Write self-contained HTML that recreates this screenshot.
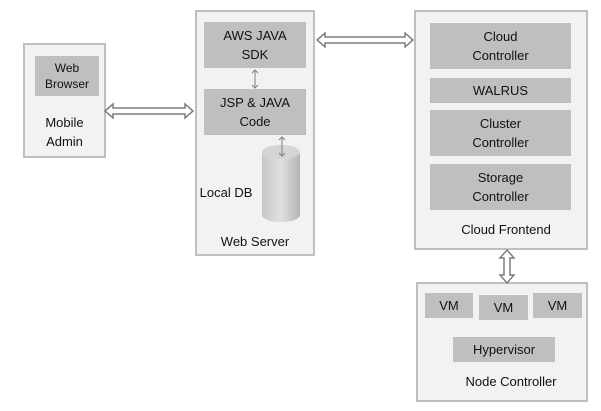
<!DOCTYPE html>
<html><head><style>
body{margin:0;width:601px;height:411px;background:#fff;position:relative;font-family:"Liberation Sans",sans-serif;color:#111;overflow:hidden}
.o{position:absolute;background:#f2f2f2;border:2px solid #bfbfbf;box-sizing:border-box}
.i{position:absolute;background:#bfbfbf;display:flex;align-items:center;justify-content:center;text-align:center;font-size:13px;line-height:19px}
.t{position:absolute;text-align:center;font-size:13px;line-height:19px}
</style></head><body>
<div class="o" style="left:23px;top:43px;width:83px;height:115px"></div>
<div class="i" style="left:35px;top:56px;width:64px;height:40px;font-size:12px;line-height:16px">Web<br>Browser</div>
<div class="t" style="left:23px;top:113px;width:83px">Mobile<br>Admin</div>

<div class="o" style="left:195px;top:10px;width:120px;height:246px"></div>
<div class="i" style="left:204px;top:22px;width:102px;height:46px">AWS JAVA<br>SDK</div>
<div class="i" style="left:204px;top:89px;width:102px;height:46px">JSP &amp; JAVA<br>Code</div>
<div class="t" style="left:195px;top:183px;width:62px">Local DB</div>
<div class="t" style="left:195px;top:232px;width:120px">Web Server</div>

<div class="o" style="left:414px;top:10px;width:174px;height:240px"></div>
<div class="i" style="left:430px;top:23px;width:141px;height:46px">Cloud<br>Controller</div>
<div class="i" style="left:430px;top:78px;width:141px;height:25px">WALRUS</div>
<div class="i" style="left:430px;top:110px;width:141px;height:46px">Cluster<br>Controller</div>
<div class="i" style="left:430px;top:164px;width:141px;height:46px">Storage<br>Controller</div>
<div class="t" style="left:414px;top:220px;width:184px">Cloud Frontend</div>

<div class="o" style="left:416px;top:282px;width:172px;height:120px"></div>
<div class="i" style="left:425px;top:293px;width:48px;height:25px">VM</div>
<div class="i" style="left:479px;top:295px;width:49px;height:25px">VM</div>
<div class="i" style="left:533px;top:293px;width:49px;height:25px">VM</div>
<div class="i" style="left:453px;top:337px;width:102px;height:25px">Hypervisor</div>
<div class="t" style="left:416px;top:372px;width:190px">Node Controller</div>

<svg width="601" height="411" style="position:absolute;left:0;top:0">
<defs><linearGradient id="g" x1="0" x2="1"><stop offset="0" stop-color="#c8c8c8"/><stop offset=".5" stop-color="#e0e0e0"/><stop offset="1" stop-color="#b5b5b5"/></linearGradient></defs>
<path d="M262,152 L262,215 A19,7 0 0 0 300,215 L300,152 Z" fill="url(#g)"/>
<ellipse cx="281" cy="152" rx="19" ry="7" fill="#d5d5d5"/>
<g fill="#fff" stroke="#7f7f7f" stroke-width="1.5">
<path d="M105,111 L113,104 L113,108 L185,108 L185,104 L193,111 L185,118 L185,114 L113,114 L113,118 Z"/>
<path d="M317,40 L325,33 L325,37 L405,37 L405,33 L413,40 L405,47 L405,43 L325,43 L325,47 Z"/>
<path d="M507,250 L514,258 L510,258 L510,275 L514,275 L507,283 L500,275 L504,275 L504,258 L500,258 Z"/>
</g>
<g stroke="#7f7f7f" stroke-width="1" fill="none">
<path d="M255,70 L255,88 M252,73 L255,70 L258,73 M252,85 L255,88 L258,85"/>
<path d="M282,137 L282,156 M279,140 L282,137 L285,140 M279,153 L282,156 L285,153"/>
</g>
</svg>
</body></html>
